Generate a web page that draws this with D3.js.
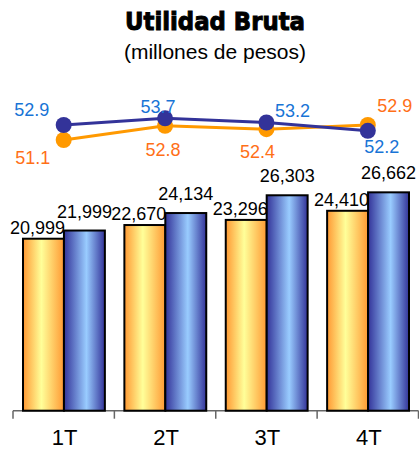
<!DOCTYPE html>
<html>
<head>
<meta charset="utf-8">
<script src="https://cdn.jsdelivr.net/npm/d3@7"></script>
<style>
body{margin:0;background:#fff;}
svg{display:block;}
</style>
</head>
<body>
<svg id="svg1" width="419" height="450"></svg>
<script>
// data
const quarters = ['1T', '2T', '3T', '4T'];
const seriesNames = ['prev', 'curr'];
const barPrev = [20999, 22670, 23296, 24410];
const barCurr = [21999, 24134, 26303, 26662];
const marginPrev = [51.1, 52.8, 52.4, 52.9];
const marginCurr = [52.9, 53.7, 53.2, 52.2];

const svg = d3.select('#svg1');
const width = 419, height = 450;
const baseY = 410.7;

// gradients for the bars
const defs = svg.append('defs');
function grad(id, stops) {
  const g = defs.append('linearGradient').attr('id', id)
    .attr('x1', '0%').attr('x2', '100%').attr('y1', '0%').attr('y2', '0%');
  stops.forEach(s => g.append('stop').attr('offset', s[0]).attr('stop-color', s[1]));
}
grad('gOrange', [['0%', '#FF9933'], ['45%', '#FFFF99'], ['100%', '#FF9933']]);
grad('gBlue', [['0%', '#333399'], ['55%', '#99CCFF'], ['100%', '#333399']]);

// title
svg.append('text')
  .attr('x', 215).attr('y', 30)
  .attr('text-anchor', 'middle')
  .attr('textLength', 180).attr('lengthAdjust', 'spacingAndGlyphs')
  .style('font-family', '"DejaVu Sans", sans-serif')
  .style('font-weight', 'bold')
  .style('font-size', '25px')
  .attr('stroke', '#000').attr('stroke-width', 1)
  .text('Utilidad Bruta');
svg.append('text')
  .attr('x', 215).attr('y', 59)
  .attr('text-anchor', 'middle')
  .style('font-family', '"Liberation Sans", Arial, sans-serif')
  .style('font-size', '21px')
  .text('(millones de pesos)');

// scales
const x = d3.scaleBand().domain(quarters).range([13, 418.5]).padding(0);
const xs = d3.scaleBand().domain(seriesNames).range([10, x.bandwidth() - 9.5]).padding(0);
const y = d3.scaleLinear().domain([0, 30000]).range([baseY, baseY - 245.7]);
const y2 = d3.scaleLinear().domain([50, 55]).range([149.2, 107.5]);

const fill = {prev: 'url(#gOrange)', curr: 'url(#gBlue)'};
const vals = {prev: barPrev, curr: barCurr};
const labDx = {prev: -6, curr: 0};
const labGap = {prev: 5, curr: 13};

// x axis
const xAxis = d3.axisBottom(x).tickSize(0).tickPadding(0).tickFormat('');
const axG = svg.append('g').attr('transform', `translate(0,${baseY})`).call(xAxis);
axG.select('.domain').remove();
axG.append('line').attr('x1', 13).attr('x2', 418.5).attr('y1', 0).attr('y2', 0)
  .attr('stroke', '#666').attr('stroke-width', 1.5);
const edges = quarters.map(q => x(q)).concat([x.range()[1]]);
axG.selectAll('.edge').data(edges).enter().append('line')
  .attr('x1', d => d).attr('x2', d => d).attr('y1', 0).attr('y2', 8)
  .attr('stroke', '#666').attr('stroke-width', 1.5);

// bars
seriesNames.forEach(s => {
  svg.selectAll('.bar-' + s).data(quarters).enter().append('rect')
    .attr('x', q => x(q) + xs(s))
    .attr('y', (q, i) => y(vals[s][i]))
    .attr('width', xs.bandwidth())
    .attr('height', (q, i) => baseY - y(vals[s][i]))
    .attr('fill', fill[s])
    .attr('stroke', '#000')
    .attr('stroke-width', 2);
});
seriesNames.forEach(s => {
  svg.selectAll('.lab-' + s).data(quarters).enter().append('text')
    .attr('x', q => x(q) + xs(s) + xs.bandwidth() / 2 + labDx[s])
    .attr('y', (q, i) => y(vals[s][i]) - labGap[s])
    .attr('text-anchor', 'middle')
    .style('font-family', '"Liberation Sans", Arial, sans-serif')
    .style('font-size', '18px')
    .text((q, i) => d3.format(',')(vals[s][i]));
});

// category labels
svg.selectAll('.cat').data(quarters).enter().append('text')
  .attr('x', q => x(q) + x.bandwidth() / 2 + 1)
  .attr('y', 445)
  .attr('text-anchor', 'middle')
  .style('font-family', '"Liberation Sans", Arial, sans-serif')
  .style('font-size', '22px')
  .text(q => q);

// margin lines
const cx = q => x(q) + x.bandwidth() / 2;
const line = d3.line().x(d => cx(d.q)).y(d => y2(d.v));
const lines = [
  {vals: marginPrev, color: '#FF9900', text: '#FF6F17', dx: [-31, -2, -9, 27], dy: [18, 24, 23, -19]},
  {vals: marginCurr, color: '#333399', text: '#1874D6', dx: [-32, -7, 26, 14], dy: [-15, -12, -12, 16]}
];
lines.forEach(L => {
  const pts = quarters.map((q, i) => ({q: q, v: L.vals[i]}));
  svg.append('path').datum(pts).attr('d', line)
    .attr('fill', 'none').attr('stroke', L.color).attr('stroke-width', 3);
  svg.selectAll(null).data(pts).enter().append('circle')
    .attr('cx', d => cx(d.q)).attr('cy', d => y2(d.v)).attr('r', 8)
    .attr('fill', L.color);
});
lines.forEach(L => {
  const pts = quarters.map((q, i) => ({q: q, v: L.vals[i]}));
  svg.selectAll(null).data(pts).enter().append('text')
    .attr('x', (d, i) => cx(d.q) + L.dx[i])
    .attr('y', (d, i) => y2(d.v) + L.dy[i])
    .attr('dy', '0.35em')
    .attr('text-anchor', 'middle')
    .attr('fill', L.text)
    .style('font-family', '"Liberation Sans", Arial, sans-serif')
    .style('font-size', '18px')
    .text(d => d.v.toFixed(1));
});
</script>
</body>
</html>
